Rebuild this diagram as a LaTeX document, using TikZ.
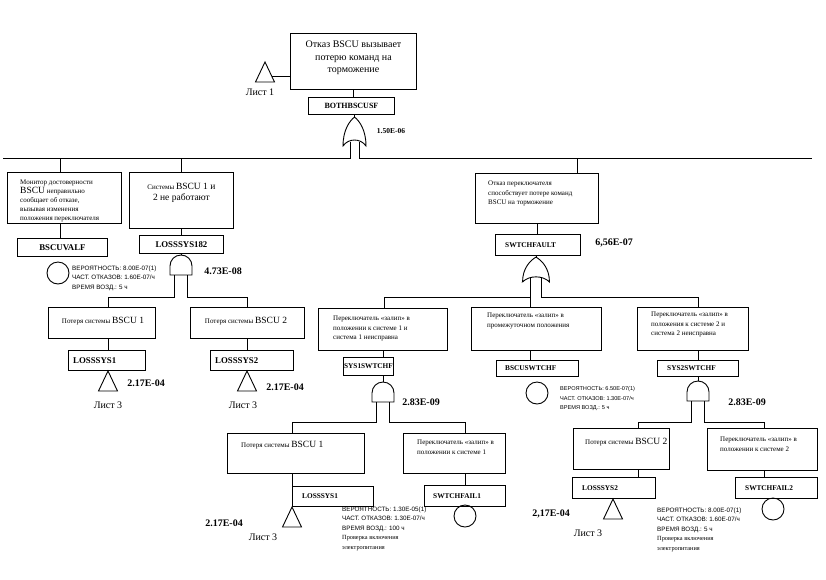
\documentclass[tikz,border=0pt]{standalone}
\usepackage{fontspec}
\setmainfont{Liberation Serif}
\setsansfont{Liberation Sans}
\usetikzlibrary{positioning,calc}

\newcommand{\lrg}[1]{{\fontsize{9.5}{11}\selectfont #1}}

\tikzset{
  box/.style={draw,line width=0.9pt,inner sep=0pt,anchor=north west},
  link/.style={line width=0.9pt},
  evtxt/.style={anchor=north west,inner sep=0pt,align=left,font=\fontsize{7}{9.5}\selectfont},
  smalltxt/.style={inner sep=0pt,font=\fontsize{7}{9}\selectfont},
  idtxt/.style={inner sep=0pt,font=\fontsize{7.3}{9}\selectfont\bfseries},
  idbig/.style={inner sep=0pt,font=\fontsize{8.8}{10}\selectfont\bfseries},
  prob/.style={inner sep=0pt,font=\fontsize{10}{12}\selectfont\bfseries},
  sheet/.style={inner sep=0pt,font=\fontsize{10}{12}\selectfont},
  data/.style={anchor=north west,inner sep=0pt,align=left,font=\sffamily\fontsize{6.3}{9.5}\selectfont},
  basic/.style={draw,circle,line width=0.9pt,minimum size=22pt,inner sep=0pt},
  orgate/.pic={
    \draw[link] (-11.5,0) .. controls (-11.5,-16) and (-5,-25) .. (0,-29)
      .. controls (5,-25) and (11.5,-16) .. (11.5,0)
      .. controls (6,-8) and (-6,-8) .. cycle;
    \coordinate (-l) at (-4.5,-4.5);
    \coordinate (-r) at (4.5,-4.5);
    \coordinate (-in) at (0,-29);
  },
  andgate/.pic={
    \draw[link] (-11,0) -- (-11,-9) .. controls (-11,-15.1) and (-6.1,-20) .. (0,-20)
      .. controls (6.1,-20) and (11,-15.1) .. (11,-9) -- (11,0) -- cycle;
    \coordinate (-l) at (-6.5,0);
    \coordinate (-r) at (6.5,0);
    \coordinate (-in) at (0,-20);
  },
}

\begin{document}
\begin{tikzpicture}[x=1pt,y=-1pt]
  \useasboundingbox (0,0) rectangle (826,579);

  % top event
  \node[box,minimum width=126,minimum height=56] (top) at (290,33) {};
  \node[inner sep=0pt,align=center,font=\fontsize{10}{12.5}\selectfont,below=8pt of top.north] (topT) {Отказ BSCU вызывает\\потерю команд на\\торможение};
  \coordinate (t1) at (265,62);
  \coordinate (t1r) at (271.6,76);
  \node[sheet] (sh1) at (260,92) {Лист 1};
  \node[box,minimum width=86,minimum height=17] (both) at (308,97) {};
  \node[inner sep=0pt,font=\fontsize{8}{9}\selectfont\bfseries] (bothT) at (both) {BOTHBSCUSF};
  \pic (g1) at (354.5,146) {orgate};
  \node[inner sep=0pt,font=\fontsize{7.5}{9}\selectfont\bfseries] (p1) at (391,131) {1.50E-06};

  % left branch
  \node[box,minimum width=114,minimum height=51] (A) at (7,172) {};
  \node[evtxt,font=\fontsize{7}{8.9}\selectfont,below right=8pt and 13pt of A.north west] (AT) {Монитор достоверности\\\lrg{BSCU} неправильно\\сообщает об отказе,\\вызывая изменения\\положения переключателя};
  \node[box,minimum width=90,minimum height=18] (val) at (17,238) {};
  \node[idbig] (valT) at (val) {BSCUVALF};
  \node[basic] (c1) at (58,273) {};
  \node[data] (d1) at (72,265.5) {ВЕРОЯТНОСТЬ: 8.00E-07(1)\\ЧАСТ. ОТКАЗОВ: 1.60E-07/ч\\ВРЕМЯ ВОЗД.: 5 ч};

  \node[box,minimum width=104,minimum height=56] (B) at (129,172) {};
  \node[inner sep=0pt,align=center,font=\fontsize{7}{11}\selectfont,below=11.5pt of B.north] (BT) {Системы \lrg{BSCU 1 и}\\\lrg{2 не работают}};
  \node[box,minimum width=84,minimum height=18] (s182) at (139,235) {};
  \node[idbig] (s182T) at (s182) {LOSSSYS182};
  \pic (gB) at (181,275) {andgate};
  \node[prob] (p2) at (223,271) {4.73E-08};

  \node[box,minimum width=107,minimum height=31] (C) at (48,307) {};
  \node[smalltxt] (CT) at (103,321) {Потеря системы \lrg{BSCU 1}};
  \node[box,minimum width=114,minimum height=31] (D) at (190,307) {};
  \node[smalltxt] (DT) at (246,321) {Потеря системы \lrg{BSCU 2}};
  \node[box,minimum width=77,minimum height=20] (ls1) at (68,350) {};
  \node[idbig,right=5pt of ls1.west] (ls1T) {LOSSSYS1};
  \node[box,minimum width=83,minimum height=20] (ls2) at (210,350) {};
  \node[idbig,right=5pt of ls2.west] (ls2T) {LOSSSYS2};
  \coordinate (t2) at (108,371);
  \coordinate (t3) at (247,371);
  \node[prob] (p3) at (146,383) {2.17E-04};
  \node[prob] (p4) at (285,387) {2.17E-04};
  \node[sheet] (sh2) at (108,405) {Лист 3};
  \node[sheet] (sh3) at (243,405) {Лист 3};

  % right branch
  \node[box,minimum width=123,minimum height=50] (E) at (475,173) {};
  \node[evtxt,below right=8pt and 13pt of E.north west] (ET) {Отказ переключателя\\способствует потере команд\\BSCU на торможение};
  \node[box,minimum width=85,minimum height=21] (swf) at (495,234) {};
  \node[idtxt,right=10pt of swf.west] (swfT) {SWTCHFAULT};
  \node[prob] (p5) at (614,243) {6,56E-07};
  \pic[xscale=1.17,yscale=0.86] (g2) at (536,282) {orgate};

  \node[box,minimum width=129,minimum height=42] (F) at (318,308) {};
  \node[evtxt,below right=8pt and 15pt of F.north west] (FT) {Переключатель «залип» в\\положении к системе 1 и\\система 1 неисправна};
  \node[box,minimum width=50,minimum height=18] (s1s) at (343,357) {};
  \node[idtxt] (s1sT) at (s1s) {SYS1SWTCHF};
  \pic (g3) at (383,402) {andgate};
  \node[prob] (p6) at (421,402) {2.83E-09};

  \node[box,minimum width=130,minimum height=43] (L) at (471,307) {};
  \node[evtxt,below right=6pt and 16pt of L.north west] (LT) {Переключатель «залип» в\\промежуточном положения};
  \node[box,minimum width=82,minimum height=16] (bsw) at (496,360) {};
  \node[idtxt,right=9pt of bsw.west] (bswT) {BSCUSWTCHF};
  \node[basic] (c2) at (537,393) {};
  \node[data,font=\sffamily\fontsize{5.6}{9.5}\selectfont] (d2) at (560,386.5) {ВЕРОЯТНОСТЬ: 6.50E-07(1)\\ЧАСТ. ОТКАЗОВ: 1.30E-07/ч\\ВРЕМЯ ВОЗД.: 5 ч};

  \node[box,minimum width=111,minimum height=43] (I) at (637,307) {};
  \node[evtxt,below right=5pt and 14pt of I.north west] (IT) {Переключатель «залип» в\\положения к системе 2 и\\система 2 неисправна};
  \node[box,minimum width=81,minimum height=16] (s2s) at (657,360) {};
  \node[idtxt,right=10pt of s2s.west] (s2sT) {SYS2SWTCHF};
  \pic (g4) at (698,401) {andgate};
  \node[prob] (p7) at (747,402) {2.83E-09};

  % lowest level
  \node[box,minimum width=137,minimum height=40] (G) at (227,433) {};
  \node[smalltxt,anchor=west] (GT) at (241,445) {Потеря системы \lrg{BSCU 1}};
  \node[box,minimum width=81,minimum height=20] (ls1b) at (292,486) {};
  \node[idtxt,right=10pt of ls1b.west] (ls1bT) {LOSSSYS1};
  \coordinate (t4) at (292,507);
  \node[prob] (p8) at (224,523) {2.17E-04};
  \node[sheet] (sh4) at (263,537) {Лист 3};
  \node[data] (d3) at (342,506.5) {ВЕРОЯТНОСТЬ: 1.30E-05(1)\\ЧАСТ. ОТКАЗОВ: 1.30E-07/ч\\ВРЕМЯ ВОЗД.: 100 ч\\{\rmfamily Проверка включения}\\{\rmfamily электропитания}};

  \node[box,minimum width=102,minimum height=40] (H) at (403,433) {};
  \node[evtxt,below right=7pt and 14pt of H.north west] (HT) {Переключатель «залип» в\\положении к системе 1};
  \node[box,minimum width=81,minimum height=21] (sf1) at (424,485) {};
  \node[idtxt,right=9pt of sf1.west] (sf1T) {SWTCHFAIL1};
  \node[basic] (c3) at (465,516) {};

  \node[box,minimum width=96,minimum height=41] (J) at (573,428) {};
  \node[smalltxt,anchor=west] (JT) at (585,442) {Потеря системы \lrg{BSCU 2}};
  \node[box,minimum width=83,minimum height=21] (ls2b) at (572,477) {};
  \node[idtxt,right=10pt of ls2b.west] (ls2bT) {LOSSSYS2};
  \coordinate (t5) at (613,499);
  \node[prob] (p9) at (551,514) {2,17E-04};
  \node[sheet] (sh5) at (588,533) {Лист 3};
  \node[data] (d4) at (657,507.5) {ВЕРОЯТНОСТЬ: 8.00E-07(1)\\ЧАСТ. ОТКАЗОВ: 1.60E-07/ч\\ВРЕМЯ ВОЗД.: 5 ч\\{\rmfamily Проверка включения}\\{\rmfamily электропитания}};

  \node[box,minimum width=110,minimum height=42] (K) at (707,428) {};
  \node[evtxt,below right=9pt and 13pt of K.north west] (KT) {Переключатель «залип» в\\положении к системе 2};
  \node[box,minimum width=82,minimum height=21] (sf2) at (735,477) {};
  \node[idtxt,right=10pt of sf2.west] (sf2T) {SWTCHFAIL2};
  \node[basic] (c4) at (773,509) {};

  % transfer triangles
  \foreach \t in {t1,t2,t3,t4,t5}
    \draw[link] (\t) -- ++(9.5,20) -- ++(-19,0) -- cycle;

  % junctions
  \coordinate (busL) at (3,158);
  \coordinate (busR) at (812,158);
  \coordinate (jA) at (60,158);
  \coordinate (jB) at (181,158);
  \coordinate (jE) at (577,158);
  \coordinate (jC) at (108,297);
  \coordinate (jD) at (247,297);
  \coordinate (jF) at (384,297);
  \coordinate (jI) at (698,297);
  \coordinate (jG) at (292,422);
  \coordinate (jH) at (465,422);
  \coordinate (jJ) at (638,422);
  \coordinate (jK) at (764,422);

  % connectors
  \draw[link] (t1r) -- (t1r -| top.west);
  \draw[link] (top.south) -- (top.south |- both.north);
  \draw[link] (both.south -| g1-in) -- (g1-in);
  \draw[link] (g1-l) |- (busL);
  \draw[link] (g1-r) |- (busR);
  \foreach \jn/\bx in {jA/A,jB/B,jE/E}
    \draw[link] (\jn) -- (\jn |- \bx.north);
  \draw[link] (A.south -| jA) -- (val.north -| jA);
  \draw[link] (B.south) -- (s182.north);
  \draw[link] (s182.south -| gB-in) -- (gB-in);
  \draw[link] (gB-l) |- (jC) -- (jC |- C.north);
  \draw[link] (gB-r) |- (jD) -- (jD |- D.north);
  \draw[link] (C.south -| jC) -- (ls1.north -| jC);
  \draw[link] (D.south -| jD) -- (ls2.north -| jD);
  \draw[link] (E.south) -- (E.south |- swf.north);
  \draw[link] (swf.south -| g2-in) -- (g2-in);
  \draw[link] (g2-l) |- (jF) -- (jF |- F.north);
  \draw[link] (g2-l) -- (g2-l |- L.north);
  \draw[link] (g2-r) |- (jI) -- (jI |- I.north);
  \draw[link] (F.south -| g3-in) -- (s1s.north -| g3-in);
  \draw[link] (s1s.south -| g3-in) -- (g3-in);
  \draw[link] (g3-l) |- (jG) -- (jG |- G.north);
  \draw[link] (g3-r) |- (jH) -- (jH |- H.north);
  \draw[link] (G.south -| jG) -- (ls1b.north -| jG);
  \draw[link] (H.south -| jH) -- (sf1.north -| jH);
  \draw[link] (L.south -| g2-l) -- (bsw.north -| g2-l);
  \draw[link] (I.south -| jI) -- (s2s.north -| jI);
  \draw[link] (s2s.south -| g4-in) -- (g4-in);
  \draw[link] (g4-l) |- (jJ) -- (jJ |- J.north);
  \draw[link] (g4-r) |- (jK) -- (jK |- K.north);
  \draw[link] (J.south -| jJ) -- (ls2b.north -| jJ);
  \draw[link] (K.south -| jK) -- (sf2.north -| jK);
\end{tikzpicture}
\end{document}
